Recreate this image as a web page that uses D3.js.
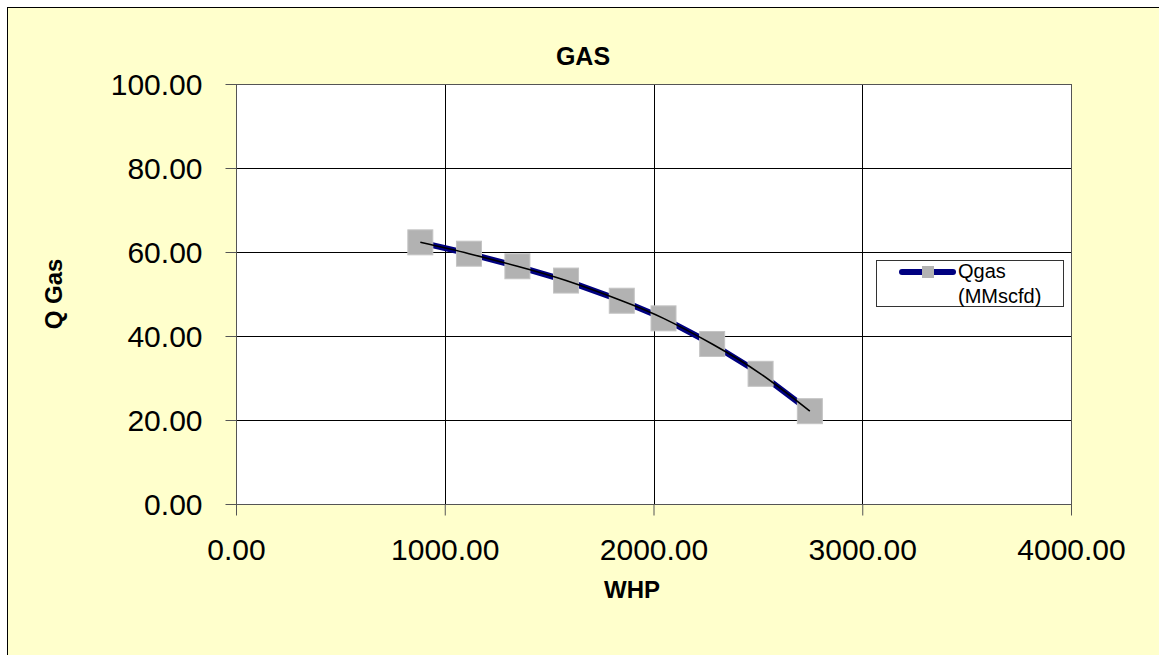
<!DOCTYPE html>
<html>
<head>
<meta charset="utf-8">
<script src="https://cdn.jsdelivr.net/npm/d3@7"></script>
<style>
  body { margin: 0; background: #fff; }
  svg { display: block; font-family: "Liberation Sans", Arial, sans-serif; }
</style>
</head>
<body>
<svg id="chart" width="1159" height="655"></svg>
<script>
// Data
const whp = [883, 1116, 1348, 1581, 1848, 2048, 2281, 2513, 2749];
const qgas = [62.3, 59.6, 56.6, 53.2, 48.4, 44.2, 38.1, 31.0, 22.1];
const xTicks = [0, 1000, 2000, 3000, 4000];
const yTicks = [0, 20, 40, 60, 80, 100];
const seriesName = ["Qgas", "(MMscfd)"];

const points = whp.map((w, i) => ({ x: w, y: qgas[i] }));

const svg = d3.select("#chart");

// Chart background + frame
svg.append("rect")
    .attr("x", 7.5).attr("y", 7.5)
    .attr("width", 1200).attr("height", 700)
    .attr("fill", "#ffffcc")
    .attr("stroke", "#000")
    .attr("stroke-width", 1);

const plot = { left: 236, right: 1071, top: 84, bottom: 504 };

const x = d3.scaleLinear().domain([0, 4000]).range([plot.left, plot.right]);
const y = d3.scaleLinear().domain([0, 100]).range([plot.bottom, plot.top]);

// Plot area
svg.append("rect")
    .attr("x", plot.left).attr("y", plot.top)
    .attr("width", plot.right - plot.left)
    .attr("height", plot.bottom - plot.top)
    .attr("fill", "#fff");

// Gridlines
svg.append("g")
    .selectAll("line")
    .data(xTicks.slice(1, -1))
    .enter()
    .append("line")
    .attr("x1", d => Math.round(x(d)) + 0.5)
    .attr("x2", d => Math.round(x(d)) + 0.5)
    .attr("y1", plot.top)
    .attr("y2", plot.bottom)
    .attr("stroke", "#000");

svg.append("g")
    .selectAll("line")
    .data(yTicks.slice(1, -1))
    .enter()
    .append("line")
    .attr("x1", plot.left)
    .attr("x2", plot.right)
    .attr("y1", d => Math.round(y(d)) + 0.5)
    .attr("y2", d => Math.round(y(d)) + 0.5)
    .attr("stroke", "#000");

// Plot border
svg.append("rect")
    .attr("x", plot.left + 0.5).attr("y", plot.top + 0.5)
    .attr("width", plot.right - plot.left)
    .attr("height", plot.bottom - plot.top)
    .attr("fill", "none")
    .attr("stroke", "#555");

// Axes
const fmt = d3.format(".2f");

const xAxis = svg.append("g")
    .attr("transform", `translate(0,${plot.bottom + 0.5})`)
    .call(d3.axisBottom(x).tickValues(xTicks).tickFormat(fmt).tickSize(11).tickPadding(23));

const yAxis = svg.append("g")
    .attr("transform", `translate(${plot.left + 0.5},0)`)
    .call(d3.axisLeft(y).tickValues(yTicks).tickFormat(fmt).tickSize(11).tickPadding(23));

[xAxis, yAxis].forEach(ax => {
    ax.select(".domain").remove();
    ax.selectAll(".tick line").attr("stroke", "#555");
    ax.selectAll("text")
        .attr("fill", "#000")
        .style("font-size", "30px")
        .style("font-family", "'Liberation Sans', Arial, sans-serif");
});
yAxis.selectAll("text").attr("dy", "0.36em");

// Series line (navy, thick)
const line = d3.line().x(d => x(d.x)).y(d => y(d.y));

svg.append("path")
    .datum(points)
    .attr("d", line)
    .attr("fill", "none")
    .attr("stroke", "#000080")
    .attr("stroke-width", 6)
    .attr("stroke-linejoin", "round");

// Markers
svg.append("g")
    .selectAll("rect")
    .data(points)
    .enter()
    .append("rect")
    .attr("x", d => x(d.x) - 12.5)
    .attr("y", d => y(d.y) - 12.5)
    .attr("width", 25)
    .attr("height", 25)
    .attr("fill", "#b2b2b2")
    .attr("stroke", "#c4c4c4")
    .attr("stroke-width", 1);

// Trendline (thin black smooth curve)
svg.append("path")
    .datum(points)
    .attr("d", d3.line().x(d => x(d.x)).y(d => y(d.y)).curve(d3.curveNatural))
    .attr("fill", "none")
    .attr("stroke", "#000")
    .attr("stroke-width", 1.6);

// Title and axis titles
svg.append("text")
    .attr("x", 583).attr("y", 65)
    .attr("text-anchor", "middle")
    .style("font-size", "25px")
    .style("font-weight", "bold")
    .text("GAS");

svg.append("text")
    .attr("x", 632).attr("y", 598)
    .attr("text-anchor", "middle")
    .style("font-size", "24px")
    .style("font-weight", "bold")
    .text("WHP");

svg.append("text")
    .attr("transform", `translate(62,${(plot.top + plot.bottom) / 2}) rotate(-90)`)
    .attr("text-anchor", "middle")
    .style("font-size", "24px")
    .style("font-weight", "bold")
    .text("Q Gas");

// Legend
const legend = svg.append("g");
legend.append("rect")
    .attr("x", 876.5).attr("y", 260.5)
    .attr("width", 187).attr("height", 46)
    .attr("fill", "#fff")
    .attr("stroke", "#333");

legend.append("line")
    .attr("x1", 902).attr("x2", 953)
    .attr("y1", 272).attr("y2", 272)
    .attr("stroke", "#000080")
    .attr("stroke-width", 6)
    .attr("stroke-linecap", "round");

legend.append("rect")
    .attr("x", 922).attr("y", 266)
    .attr("width", 12).attr("height", 12)
    .attr("fill", "#b2b2b2");

legend.selectAll("text.lbl")
    .data(seriesName)
    .enter()
    .append("text")
    .attr("class", "lbl")
    .attr("x", 958)
    .attr("y", (d, i) => 278 + i * 25)
    .style("font-size", "20px")
    .text(d => d);
</script>
</body>
</html>
